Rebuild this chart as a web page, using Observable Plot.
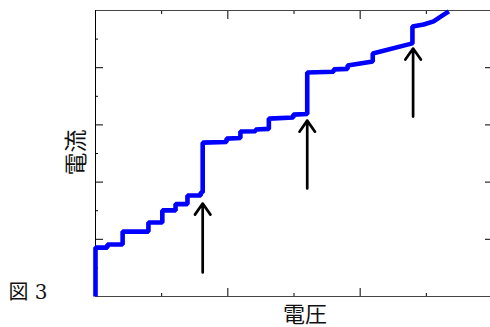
<!DOCTYPE html>
<html><head><meta charset="utf-8">
<script src="https://cdn.jsdelivr.net/npm/d3@7"></script>
<script src="https://cdn.jsdelivr.net/npm/@observablehq/plot@0.6"></script>
<style>body{margin:0;background:#fff;}</style>
</head><body><div id="chart"></div>
<script>
// Step-like current/voltage curve (arbitrary units)
const curveX = [0, 0, 0.18, 0.18, 0.41, 0.41, 0.80, 0.80, 1.01, 1.01, 1.21, 1.21, 1.39, 1.39, 1.59, 1.59, 1.62, 1.62,
  1.98, 1.98, 2.19, 2.19, 2.42, 2.42, 2.62, 2.62, 2.99, 2.99, 3.20, 3.20,
  3.60, 3.60, 3.81, 3.81, 4.19, 4.19, 4.79, 4.79, 4.96, 5.11, 5.24, 5.34];
const curveY = [0, 1.71, 1.71, 1.82, 1.82, 2.27, 2.27, 2.59, 2.59, 3.01, 3.01, 3.23, 3.23, 3.53, 3.53, 3.64, 3.64, 5.38,
  5.40, 5.52, 5.54, 5.77, 5.78, 5.84, 5.86, 6.22, 6.26, 6.36, 6.38, 7.83,
  7.86, 7.94, 7.96, 8.08, 8.22, 8.50, 8.85, 9.44, 9.51, 9.62, 9.82, 9.97];
// Arrows marking the jumps
const arrowX = [1.62, 3.20, 4.80];
const arrowFrom = [0.84, 3.78, 6.29];
const arrowTo = [3.25, 6.15, 8.67];
// Tick positions (no tick labels)
const xMajorTicks = [0, 2, 4, 6];
const xMinorTicks = [1, 3, 5];
const yMajorTicks = [0, 2, 4, 6, 8, 10];
const yMinorTicks = [1, 3, 5, 7, 9];
const xLabel = "電圧";
const yLabel = "電流";
const figLabel = "図 3";

const curve = curveX.map((x, i) => ({x, y: curveY[i]}));
const arrows = arrowX.map((x, i) => ({x, y1: arrowFrom[i], y2: arrowTo[i]}));
const noLabel = () => "";
const cjk = "Noto Sans CJK JP";

const plot = Plot.plot({
  width: 490, height: 327,
  marginLeft: 95, marginRight: -2, marginTop: 10, marginBottom: 31,
  x: {domain: [0, 6]},
  y: {domain: [0, 10]},
  style: {background: "white"},
  marks: [
    Plot.axisX(xMajorTicks, {anchor: "bottom", tickSize: -8, tickFormat: noLabel, label: null}),
    Plot.axisX(xMinorTicks, {anchor: "bottom", tickSize: -3, tickFormat: noLabel, label: null}),
    Plot.axisX(xMajorTicks, {anchor: "top", tickSize: -8, tickFormat: noLabel, label: null}),
    Plot.axisX(xMinorTicks, {anchor: "top", tickSize: -3, tickFormat: noLabel, label: null}),
    Plot.axisY(yMajorTicks, {anchor: "left", tickSize: -8, tickFormat: noLabel, label: null}),
    Plot.axisY(yMinorTicks, {anchor: "left", tickSize: -3, tickFormat: noLabel, label: null}),
    Plot.axisY(yMajorTicks, {anchor: "right", tickSize: -8, tickFormat: noLabel, label: null}),
    Plot.axisY(yMinorTicks, {anchor: "right", tickSize: -3, tickFormat: noLabel, label: null}),
    Plot.ruleY([0, 10], {stroke: "#444"}),
    Plot.ruleX([0], {stroke: "#000"}),
    Plot.ruleX([6], {stroke: "#000"}),
    Plot.line(curve, {x: "x", y: "y", stroke: "#0000ff", strokeWidth: 4.6, strokeLinejoin: "miter", strokeLinecap: "butt"}),
    Plot.arrow(arrows, {x1: "x", x2: "x", y1: "y1", y2: "y2", stroke: "#000", strokeWidth: 2.7, headLength: 7.5, headAngle: 70}),
    Plot.text([yLabel], {frameAnchor: "left", dx: -19, dy: 22, rotate: -90, fontSize: 23, fontFamily: cjk, fill: "#111"}),
    Plot.text([xLabel], {frameAnchor: "bottom", dx: 11, dy: 18, lineAnchor: "middle", fontSize: 22, fontFamily: cjk, fill: "#111"}),
    Plot.text([figLabel], {frameAnchor: "bottom-left", dx: -87, dy: -4, textAnchor: "start", lineAnchor: "middle", fontSize: 20, fontFamily: "DejaVu Serif, Noto Sans CJK JP, serif", fill: "#111"})
  ]
});
document.getElementById("chart").appendChild(plot);
</script>
</body></html>
